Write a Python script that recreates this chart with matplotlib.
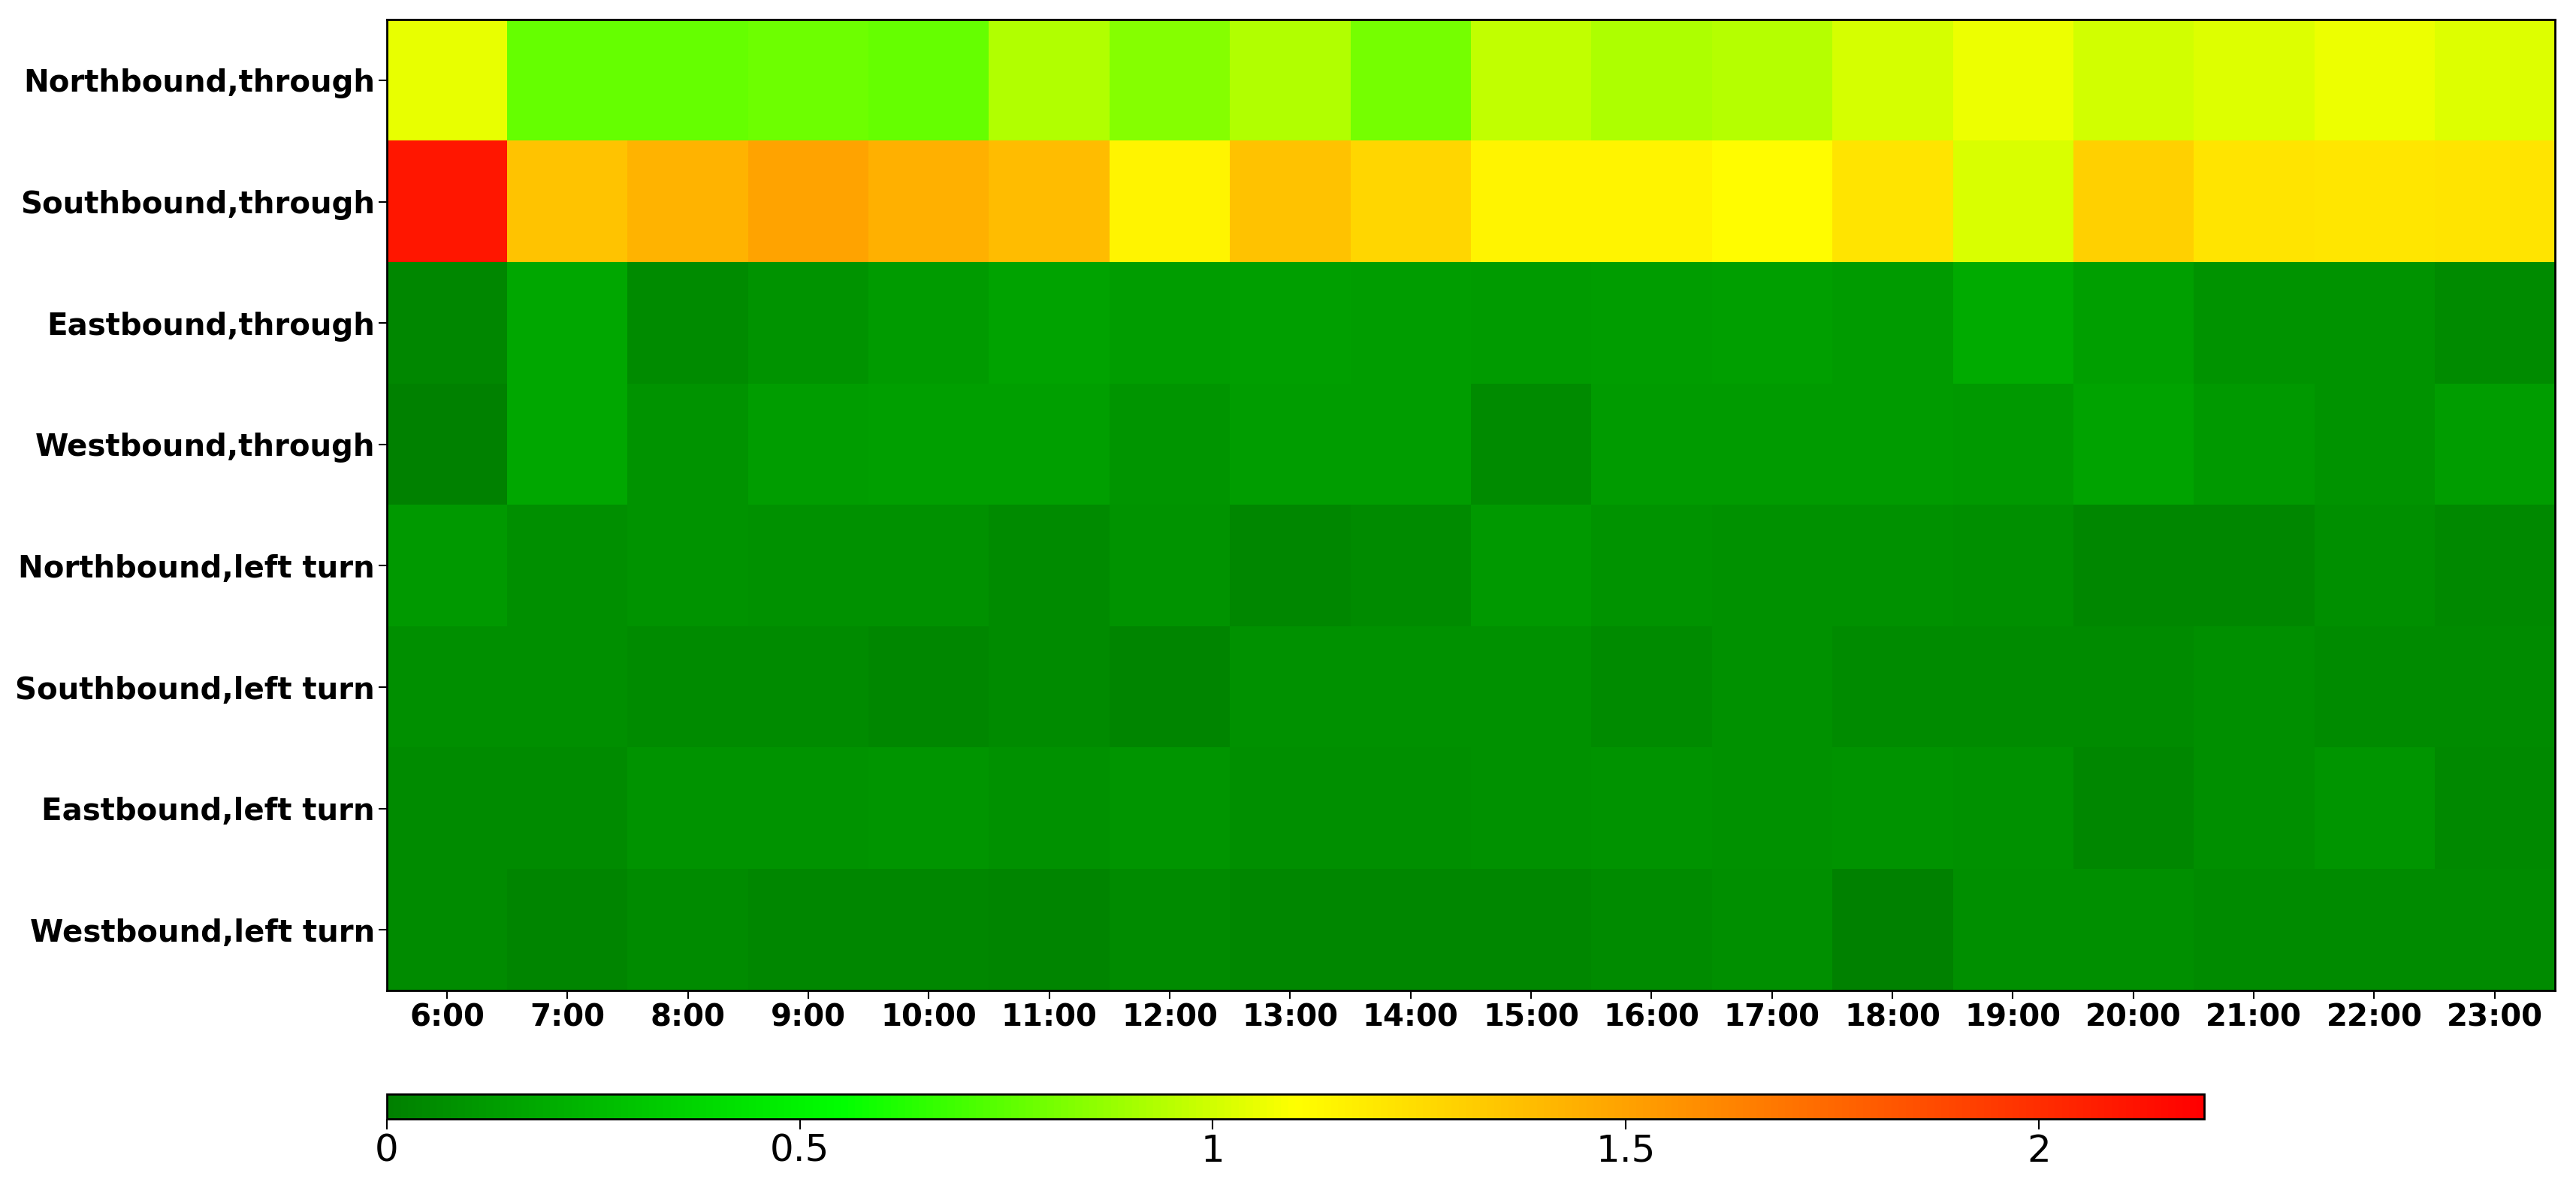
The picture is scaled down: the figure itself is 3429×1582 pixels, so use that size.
import numpy as np
import matplotlib
matplotlib.use("Agg")
import matplotlib.pyplot as plt
from matplotlib.colors import LinearSegmentedColormap
from matplotlib.ticker import FormatStrFormatter

# movements (rows) and hours (columns)
movements = ["Northbound,through", "Southbound,through", "Eastbound,through",
             "Westbound,through", "Northbound,left turn", "Southbound,left turn",
             "Eastbound,left turn", "Westbound,left turn"]
hours = [f"{h}:00" for h in range(6, 24)]

# values, one list per movement
nb_through = [1.05, 0.77, 0.77, 0.79, 0.77, 0.93, 0.84, 0.93, 0.80, 0.97,
              0.92, 0.94, 1.01, 1.06, 1.00, 1.03, 1.06, 1.03]
sb_through = [2.10, 1.35, 1.42, 1.49, 1.44, 1.39, 1.15, 1.36, 1.28, 1.15,
              1.15, 1.11, 1.22, 1.02, 1.30, 1.22, 1.21, 1.22]
eb_through = [0.035, 0.173, 0.052, 0.087, 0.121, 0.156, 0.130, 0.139, 0.130, 0.121,
              0.130, 0.139, 0.121, 0.190, 0.139, 0.087, 0.087, 0.052]
wb_through = [0.010, 0.173, 0.087, 0.130, 0.139, 0.139, 0.095, 0.130, 0.130, 0.060,
              0.121, 0.121, 0.121, 0.113, 0.156, 0.113, 0.087, 0.130]
nb_left = [0.113, 0.069, 0.087, 0.078, 0.078, 0.052, 0.087, 0.035, 0.060, 0.113,
           0.087, 0.078, 0.078, 0.069, 0.035, 0.035, 0.069, 0.043]
sb_left = [0.069, 0.069, 0.052, 0.060, 0.035, 0.052, 0.026, 0.078, 0.078, 0.078,
           0.052, 0.078, 0.060, 0.060, 0.060, 0.069, 0.060, 0.052]
eb_left = [0.060, 0.060, 0.087, 0.087, 0.095, 0.078, 0.095, 0.069, 0.069, 0.078,
           0.087, 0.078, 0.087, 0.078, 0.035, 0.069, 0.095, 0.043]
wb_left = [0.052, 0.026, 0.060, 0.035, 0.035, 0.026, 0.060, 0.035, 0.035, 0.035,
           0.060, 0.069, 0.017, 0.069, 0.069, 0.060, 0.060, 0.060]

data = np.array([nb_through, sb_through, eb_through, wb_through,
                 nb_left, sb_left, eb_left, wb_left])

# green -> lime -> yellow -> red, lime at 0.55 and yellow at 1.1 on a 0..2.2 scale
cmap = LinearSegmentedColormap.from_list(
    "gyr", [(0, "green"), (0.25, "lime"), (0.5, "yellow"), (1, "red")])

fig = plt.figure(figsize=(34.3, 15.82), dpi=100)
ax = fig.add_axes([0.1501, 0.1662, 0.8414, 0.8173])
im = ax.imshow(data, cmap=cmap, vmin=0, vmax=2.2, aspect="auto",
               interpolation="nearest")

ax.set_xticks(range(len(hours)))
ax.set_xticklabels(hours, fontsize=29, fontweight="bold")
ax.set_yticks(range(len(movements)))
ax.set_yticklabels(movements, fontsize=29, fontweight="bold")
ax.tick_params(length=8, width=1.5)
for s in ax.spines.values():
    s.set_linewidth(2)

cax = fig.add_axes([0.1501, 0.0582, 0.7052, 0.0209])
cb = fig.colorbar(im, cax=cax, orientation="horizontal")
cb.set_ticks([0, 0.5, 1, 1.5, 2])
cb.ax.xaxis.set_major_formatter(FormatStrFormatter("%g"))
cb.ax.tick_params(labelsize=36, length=10, width=1.5)
cb.outline.set_linewidth(2)

fig.savefig("out.png", dpi=100)
